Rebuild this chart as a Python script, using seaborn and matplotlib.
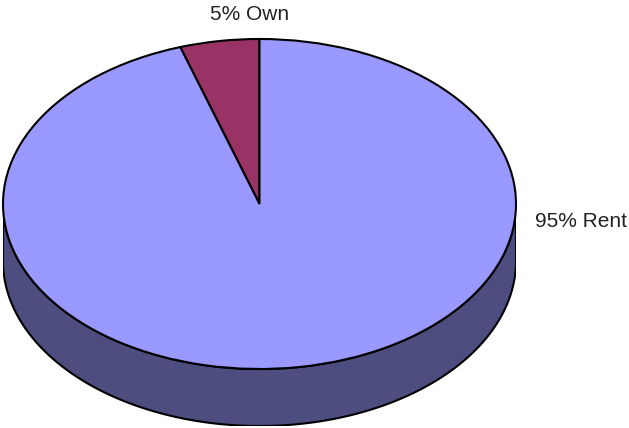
import numpy as np
import matplotlib
matplotlib.use("Agg")
import matplotlib.pyplot as plt
from matplotlib.patches import Polygon
import seaborn as sns

# Tenure split
categories = ["Own", "Rent"]
shares = [5, 95]
label_texts = ["5% Own", "95% Rent"]

sns.set_style("white")
plt.rcParams["font.family"] = ["Liberation Sans", "DejaVu Sans"]

top_colors = sns.color_palette(["#993366", "#9999FF"])
side_color = "#4D4D80"
edge = "black"
lw = 1.5

W, H = 629, 428
fig = plt.figure(figsize=(W / 100, H / 100), dpi=100)

# pixel geometry of the disc
x_left, x_right = 3, 516
y_top, y_bot_top, y_bot_side = 39, 369, 426
b_px = (y_bot_top - y_top) / 2
depth = (y_bot_side - y_bot_top) / b_px

ax = fig.add_axes([x_left / W, (H - y_bot_side) / H,
                   (x_right - x_left) / W, (y_bot_side - y_top) / H])

# extruded side of the disc (front half only)
t = np.linspace(np.pi, 2 * np.pi, 200)
xs = np.cos(t)
ys = np.sin(t)
side = np.concatenate([np.column_stack([xs, ys]),
                       np.column_stack([xs[::-1], ys[::-1] - depth])])
ax.add_patch(Polygon(side, closed=True, facecolor=side_color,
                     edgecolor=edge, linewidth=lw, zorder=1))

# top face
wedges, _ = ax.pie(shares, colors=top_colors, startangle=90,
                   counterclock=True, radius=1,
                   wedgeprops=dict(edgecolor=edge, linewidth=lw))
for w in wedges:
    w.set_zorder(2)

ax.set_aspect("auto")
ax.set_xlim(-1, 1)
ax.set_ylim(-1 - depth, 1)
ax.axis("off")

# labels
fig.text(249.5 / W, 1 - 14.5 / H, label_texts[0], ha="center", va="center",
         fontsize=15, color="#222222")
fig.text(535 / W, 1 - 221.5 / H, label_texts[1], ha="left", va="center",
         fontsize=15, color="#222222")

fig.savefig("out.png", dpi=100)
